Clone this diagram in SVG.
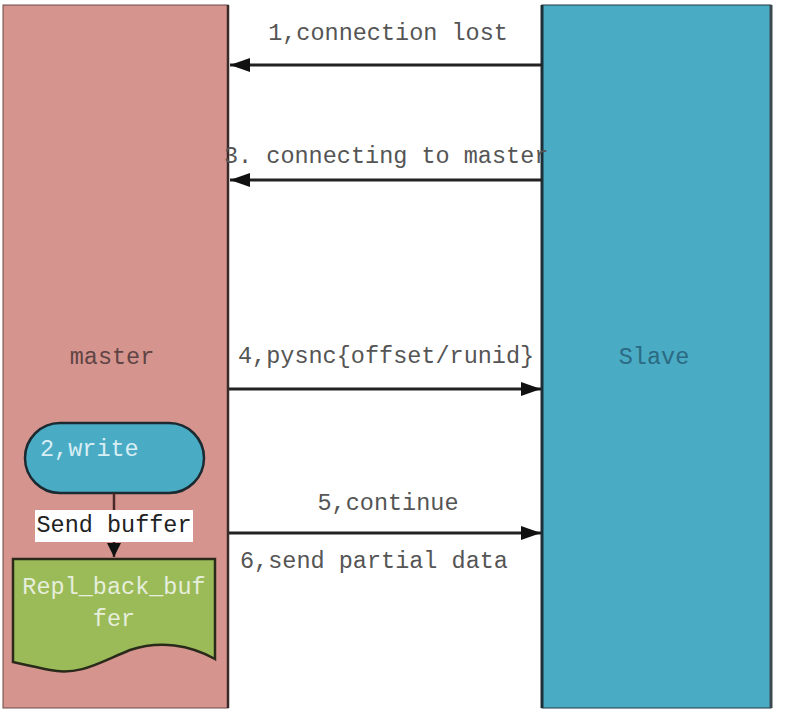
<svg xmlns="http://www.w3.org/2000/svg" width="797" height="717" viewBox="0 0 797 717">
<defs>
<marker id="ah" viewBox="0 0 20 14" refX="20" refY="7" markerWidth="20" markerHeight="14" markerUnits="userSpaceOnUse" orient="auto">
<path d="M0,0 L20,7 L0,14 Z" fill="#111"/>
</marker>
<marker id="ahs" viewBox="0 0 14 14" refX="14" refY="7" markerWidth="14" markerHeight="14" markerUnits="userSpaceOnUse" orient="auto">
<path d="M0,0 L14,7 L0,14 Z" fill="#111"/>
</marker>
</defs>
<style>
text{font-family:"Liberation Mono","DejaVu Sans Mono",monospace;font-size:23.5px}
.lbl{fill:#555}
.conn{stroke:#222;stroke-width:3;fill:none;marker-end:url(#ah)}
</style>
<rect width="797" height="717" fill="#fff"/>
<g id="master">
<rect x="3" y="5" width="225" height="703" fill="#D6948F" stroke="#6a4a48" stroke-width="1"/>
<line x1="228" y1="5" x2="228" y2="708" stroke="#3a2a2a" stroke-width="2.5"/>
<text x="112" y="364" text-anchor="middle" fill="#5f4444">master</text>
</g>
<g id="slave">
<rect x="542" y="5" width="229" height="703" fill="#4AABC4" stroke="#1e3a44" stroke-width="1"/>
<line x1="542" y1="5" x2="542" y2="708" stroke="#1c2e36" stroke-width="3"/>
<line x1="771" y1="5" x2="771" y2="708" stroke="#3c4a50" stroke-width="3"/>
<text x="654" y="364" text-anchor="middle" fill="#2a6a82">Slave</text>
</g>
<g id="write">
<rect x="25" y="423" width="179" height="70" rx="35" ry="35" fill="#4AABC4" stroke="#1a2a30" stroke-width="2.5"/>
<text x="40" y="456" fill="#d8eef4">2,write</text>
</g>
<g id="repl">
<path d="M13,559 L215,559 L215,659 C190,645 160,640 130,650 C100,662 80,676 50,670 C35,667 22,664 13,662 Z" fill="#9BBB59" stroke="#2a2a1a" stroke-width="2.5"/>
<text x="114" y="594" text-anchor="middle" fill="#e6eedc">Repl_back_buf</text>
<text x="114" y="626" text-anchor="middle" fill="#e6eedc">fer</text>
</g>
<g id="connectors">
<line class="conn" x1="542" y1="65" x2="230" y2="65"/>
<line class="conn" x1="542" y1="180" x2="230" y2="180"/>
<line class="conn" x1="229" y1="389" x2="541" y2="389"/>
<line class="conn" x1="229" y1="533" x2="541" y2="533"/>
<line x1="114" y1="493" x2="114" y2="557" stroke="#4a2a28" stroke-width="2.5" marker-end="url(#ahs)"/>
<rect x="35" y="510" width="158" height="32" fill="#fff"/>
<text x="114" y="532" text-anchor="middle" fill="#222">Send buffer</text>
<text class="lbl" x="388" y="40" text-anchor="middle">1,connection lost</text>
<text class="lbl" x="224" y="163">3. connecting to master</text>
<text class="lbl" x="238" y="363">4,pysnc{offset/runid}</text>
<text class="lbl" x="388" y="510" text-anchor="middle">5,continue</text>
<text class="lbl" x="240" y="568">6,send partial data</text>
</g>
</svg>
